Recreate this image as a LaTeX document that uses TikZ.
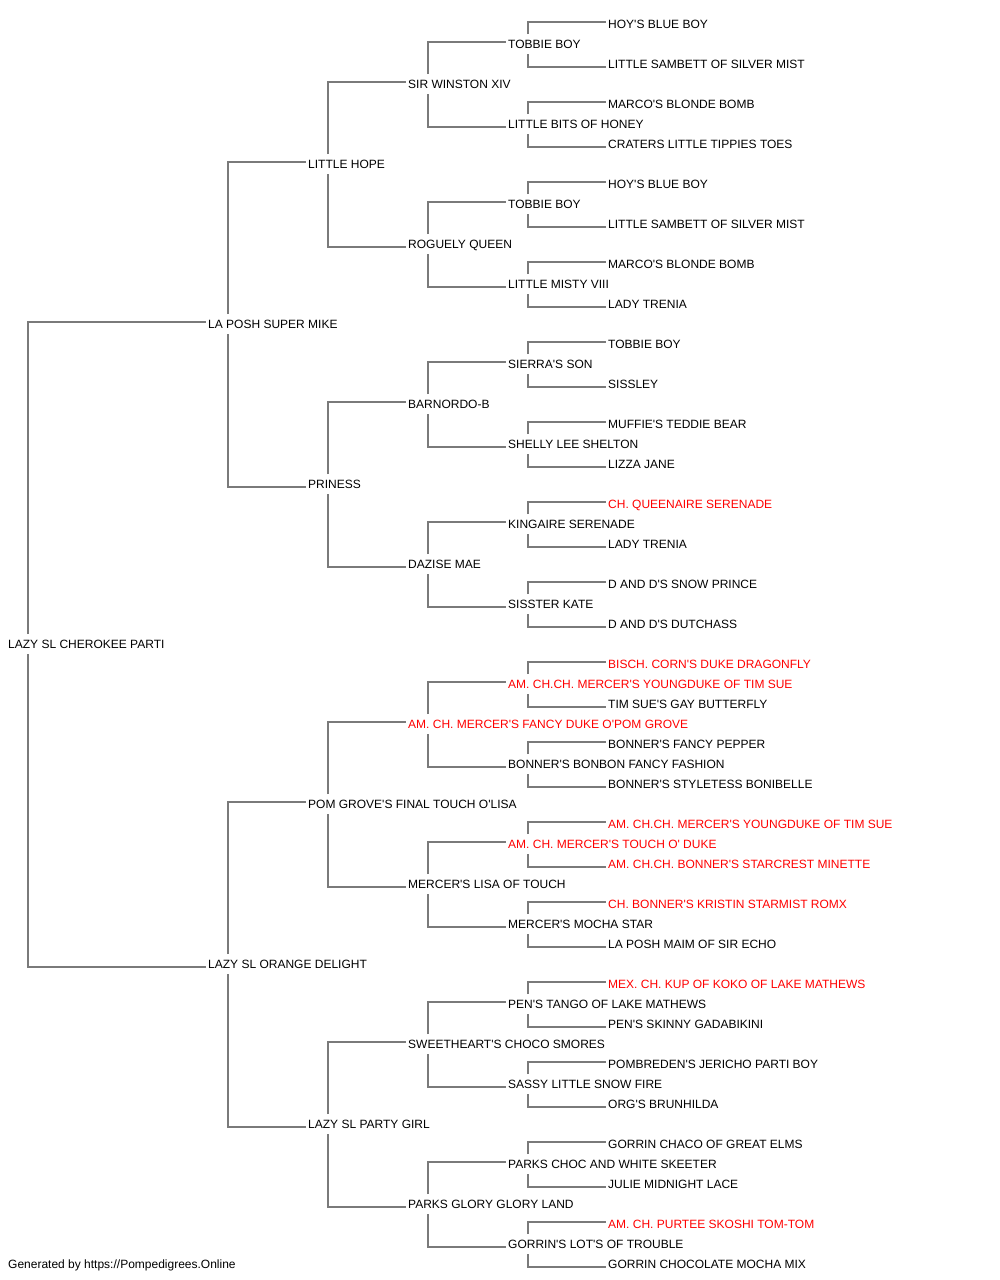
\documentclass[tikz,border=0pt]{standalone}
\usepackage{fontspec}
\setmainfont{Liberation Sans}[Ligatures=TeXOff]
\definecolor{pred}{HTML}{FF0000}
\definecolor{lineg}{HTML}{7A7A7A}
\begin{document}
\begin{tikzpicture}[x=1pt,y=-1pt,
  lbl/.style={anchor=west,inner xsep=2pt,inner ysep=0pt,text height=8.6pt,text depth=0pt,font=\fontsize{12}{14}\selectfont},
  champ/.style={lbl,text=pred},
  conn/.style={draw=lineg,line width=2pt}]
\useasboundingbox (0,0) rectangle (1000,1280);
% generation 0
\node[lbl] (n31) at (6,644) {LAZY SL CHEROKEE PARTI};
% generation 1
\node[lbl] (n15) at (206,324) {LA POSH SUPER MIKE};
\node[lbl] (n47) at (206,964) {LAZY SL ORANGE DELIGHT};
% generation 2
\node[lbl] (n7) at (306,164) {LITTLE HOPE};
\node[lbl] (n23) at (306,484) {PRINESS};
\node[lbl] (n39) at (306,804) {POM GROVE'S FINAL TOUCH O'LISA};
\node[lbl] (n55) at (306,1124) {LAZY SL PARTY GIRL};
% generation 3
\node[lbl] (n3) at (406,84) {SIR WINSTON XIV};
\node[lbl] (n11) at (406,244) {ROGUELY QUEEN};
\node[lbl] (n19) at (406,404) {BARNORDO-B};
\node[lbl] (n27) at (406,564) {DAZISE MAE};
\node[champ] (n35) at (406,724) {AM. CH. MERCER'S FANCY DUKE O'POM GROVE};
\node[lbl] (n43) at (406,884) {MERCER'S LISA OF TOUCH};
\node[lbl] (n51) at (406,1044) {SWEETHEART'S CHOCO SMORES};
\node[lbl] (n59) at (406,1204) {PARKS GLORY GLORY LAND};
% generation 4
\node[lbl] (n1) at (506,44) {TOBBIE BOY};
\node[lbl] (n5) at (506,124) {LITTLE BITS OF HONEY};
\node[lbl] (n9) at (506,204) {TOBBIE BOY};
\node[lbl] (n13) at (506,284) {LITTLE MISTY VIII};
\node[lbl] (n17) at (506,364) {SIERRA'S SON};
\node[lbl] (n21) at (506,444) {SHELLY LEE SHELTON};
\node[lbl] (n25) at (506,524) {KINGAIRE SERENADE};
\node[lbl] (n29) at (506,604) {SISSTER KATE};
\node[champ] (n33) at (506,684) {AM. CH.CH. MERCER'S YOUNGDUKE OF TIM SUE};
\node[lbl] (n37) at (506,764) {BONNER'S BONBON FANCY FASHION};
\node[champ] (n41) at (506,844) {AM. CH. MERCER'S TOUCH O' DUKE};
\node[lbl] (n45) at (506,924) {MERCER'S MOCHA STAR};
\node[lbl] (n49) at (506,1004) {PEN'S TANGO OF LAKE MATHEWS};
\node[lbl] (n53) at (506,1084) {SASSY LITTLE SNOW FIRE};
\node[lbl] (n57) at (506,1164) {PARKS CHOC AND WHITE SKEETER};
\node[lbl] (n61) at (506,1244) {GORRIN'S LOT'S OF TROUBLE};
% generation 5
\node[lbl] (n0) at (606,24) {HOY'S BLUE BOY};
\node[lbl] (n2) at (606,64) {LITTLE SAMBETT OF SILVER MIST};
\node[lbl] (n4) at (606,104) {MARCO'S BLONDE BOMB};
\node[lbl] (n6) at (606,144) {CRATERS LITTLE TIPPIES TOES};
\node[lbl] (n8) at (606,184) {HOY'S BLUE BOY};
\node[lbl] (n10) at (606,224) {LITTLE SAMBETT OF SILVER MIST};
\node[lbl] (n12) at (606,264) {MARCO'S BLONDE BOMB};
\node[lbl] (n14) at (606,304) {LADY TRENIA};
\node[lbl] (n16) at (606,344) {TOBBIE BOY};
\node[lbl] (n18) at (606,384) {SISSLEY};
\node[lbl] (n20) at (606,424) {MUFFIE'S TEDDIE BEAR};
\node[lbl] (n22) at (606,464) {LIZZA JANE};
\node[champ] (n24) at (606,504) {CH. QUEENAIRE SERENADE};
\node[lbl] (n26) at (606,544) {LADY TRENIA};
\node[lbl] (n28) at (606,584) {D AND D'S SNOW PRINCE};
\node[lbl] (n30) at (606,624) {D AND D'S DUTCHASS};
\node[champ] (n32) at (606,664) {BISCH. CORN'S DUKE DRAGONFLY};
\node[lbl] (n34) at (606,704) {TIM SUE'S GAY BUTTERFLY};
\node[lbl] (n36) at (606,744) {BONNER'S FANCY PEPPER};
\node[lbl] (n38) at (606,784) {BONNER'S STYLETESS BONIBELLE};
\node[champ] (n40) at (606,824) {AM. CH.CH. MERCER'S YOUNGDUKE OF TIM SUE};
\node[champ] (n42) at (606,864) {AM. CH.CH. BONNER'S STARCREST MINETTE};
\node[champ] (n44) at (606,904) {CH. BONNER'S KRISTIN STARMIST ROMX};
\node[lbl] (n46) at (606,944) {LA POSH MAIM OF SIR ECHO};
\node[champ] (n48) at (606,984) {MEX. CH. KUP OF KOKO OF LAKE MATHEWS};
\node[lbl] (n50) at (606,1024) {PEN'S SKINNY GADABIKINI};
\node[lbl] (n52) at (606,1064) {POMBREDEN'S JERICHO PARTI BOY};
\node[lbl] (n54) at (606,1104) {ORG'S BRUNHILDA};
\node[lbl] (n56) at (606,1144) {GORRIN CHACO OF GREAT ELMS};
\node[lbl] (n58) at (606,1184) {JULIE MIDNIGHT LACE};
\node[champ] (n60) at (606,1224) {AM. CH. PURTEE SKOSHI TOM-TOM};
\node[lbl] (n62) at (606,1264) {GORRIN CHOCOLATE MOCHA MIX};
% footer
\node[lbl] (foot) at (6,1264) {Generated by https://Pompedigrees.Online};
% connectors
\foreach \p/\a/\b in {31/15/47,
  15/7/23, 47/39/55,
  7/3/11, 23/19/27, 39/35/43, 55/51/59,
  3/1/5, 11/9/13, 19/17/21, 27/25/29, 35/33/37, 43/41/45, 51/49/53, 59/57/61,
  1/0/2, 5/4/6, 9/8/10, 13/12/14, 17/16/18, 21/20/22, 25/24/26, 29/28/30,
  33/32/34, 37/36/38, 41/40/42, 45/44/46, 49/48/50, 53/52/54, 57/56/58, 61/60/62}{
  \draw[conn] ([shift={(22,-10)}]n\p.west) |- ([shift={(0,-2)}]n\a.west);
  \draw[conn] ([shift={(22,10)}]n\p.west) |- ([shift={(0,3)}]n\b.west);
}
\end{tikzpicture}
\end{document}
